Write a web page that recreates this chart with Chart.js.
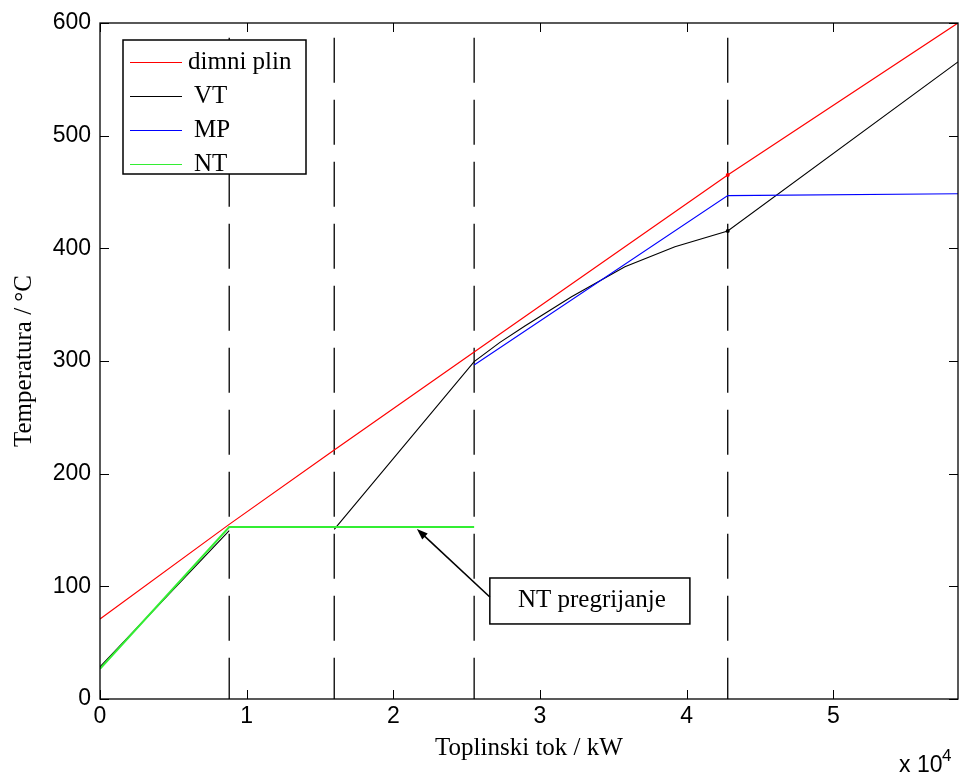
<!DOCTYPE html>
<html>
<head>
<meta charset="utf-8">
<script src="https://cdn.jsdelivr.net/npm/chart.js@4.4.1/dist/chart.umd.min.js"></script>
<style>
  html, body { margin: 0; padding: 0; background: #fff; }
  #wrap { width: 960px; height: 775px; }
</style>
</head>
<body>
<div id="wrap"><canvas id="chart" width="960" height="775"></canvas></div>
<script>
// Heat flow (kW) / temperature (°C)
const gasQ = [0, 8810, 15970, 25510, 42800, 58500];
const gasT = [71, 155, 221, 308, 465, 600];

const vtQ = [0, 8810, 12000, 15970, 25510, 27270, 28970, 32150, 35790, 39200, 42800, 58500];
const vtT = [28.5, 149.4, null, 150.5, 299.5, 316.5, 331, 357, 383.6, 401.4, 415.4, 565.5];

const mpQ = [25510, 42800, 58500];
const mpT = [296.4, 446.8, 448.5];

const ntQ = [0, 8810, 25510];
const ntT = [26.8, 152.7, 152.7];

// section boundaries (dashed verticals)
const sectionQ = [8810, 15970, 25510, 42800];
const sectionTop = 587;
const markerQ = 42800;

const xTicks = [0, 10000, 20000, 30000, 40000, 50000];
const yTicks = [0, 100, 200, 300, 400, 500, 600];
const xMax = 58500;
const yMax = 600;

const seriesNames = ['dimni plin', 'VT', 'MP', 'NT'];
const seriesColors = ['#ff0000', '#000000', '#0000ff', '#33ee33'];

const noteText = 'NT pregrijanje';

const SANS = '"Liberation Sans", Arial, sans-serif';
const SERIF = '"Liberation Serif", "Times New Roman", serif';

function pts(qs, ts) {
  return qs.map((q, i) => ({ x: q, y: ts[i] }));
}

function series(i, qs, ts, width, order) {
  return {
    label: seriesNames[i],
    data: pts(qs, ts),
    showLine: true,
    borderColor: seriesColors[i],
    backgroundColor: seriesColors[i],
    borderWidth: width,
    pointRadius: ctx => (ctx.raw && ctx.raw.x === markerQ && i < 2 ? 2 : 0),
    pointBorderWidth: 0,
    order: order
  };
}

const datasets = [
  series(0, gasQ, gasT, 1.2, 3),
  series(1, vtQ, vtT, 1.1, 2),
  series(2, mpQ, mpT, 1.1, 1),
  series(3, ntQ, ntT, 2, 0)
];

sectionQ.forEach(q => {
  datasets.push({
    label: '',
    data: [{ x: q, y: sectionTop }, { x: q, y: 0 }],
    showLine: true,
    borderColor: '#000',
    borderWidth: 1.3,
    borderDash: [45, 17],
    pointRadius: 0,
    order: 5
  });
});

const frame = {
  id: 'frame',
  afterDraw(chart) {
    const { ctx, chartArea: a } = chart;
    const x = chart.scales.x, y = chart.scales.y;
    ctx.save();

    // axes box
    ctx.strokeStyle = '#000';
    ctx.lineWidth = 1.3;
    ctx.strokeRect(a.left, a.top, a.right - a.left, a.bottom - a.top);

    // inward ticks on all four sides
    ctx.lineWidth = 1;
    ctx.beginPath();
    xTicks.forEach(v => {
      const px = Math.round(x.getPixelForValue(v)) + 0.5;
      ctx.moveTo(px, a.bottom); ctx.lineTo(px, a.bottom - 9);
      ctx.moveTo(px, a.top); ctx.lineTo(px, a.top + 9);
    });
    yTicks.forEach(v => {
      const py = Math.round(y.getPixelForValue(v)) + 0.5;
      ctx.moveTo(a.left, py); ctx.lineTo(a.left + 9, py);
      ctx.moveTo(a.right, py); ctx.lineTo(a.right - 9, py);
    });
    ctx.stroke();

    // legend box
    ctx.fillStyle = '#fff';
    ctx.fillRect(123, 40, 183, 134);
    ctx.lineWidth = 1.5;
    ctx.strokeRect(123, 40, 183, 134);
    ctx.font = '25px ' + SERIF;
    ctx.textBaseline = 'middle';
    ctx.textAlign = 'left';
    seriesNames.forEach((name, i) => {
      const ly = 62.5 + i * 34;
      ctx.strokeStyle = seriesColors[i];
      ctx.lineWidth = 1.2;
      ctx.beginPath();
      ctx.moveTo(130, ly); ctx.lineTo(182, ly);
      ctx.stroke();
      ctx.fillStyle = '#000';
      ctx.fillText(name, i === 0 ? 188 : 194, ly);
    });

    // annotation with arrow
    const bx0 = x.getPixelForValue(26580), by0 = y.getPixelForValue(107.4);
    const bx1 = x.getPixelForValue(40220), by1 = y.getPixelForValue(66.6);
    ctx.fillStyle = '#fff';
    ctx.fillRect(bx0, by0, bx1 - bx0, by1 - by0);
    ctx.strokeStyle = '#000';
    ctx.lineWidth = 1.5;
    ctx.strokeRect(bx0, by0, bx1 - bx0, by1 - by0);
    ctx.fillStyle = '#000';
    ctx.textAlign = 'center';
    ctx.textBaseline = 'alphabetic';
    ctx.fillText(noteText, (bx0 + bx1) / 2 + 2, by0 + 29);

    const ax0 = x.getPixelForValue(26580), ay0 = y.getPixelForValue(90.5);
    const ax1 = x.getPixelForValue(21610), ay1 = y.getPixelForValue(150.9);
    const ang = Math.atan2(ay1 - ay0, ax1 - ax0);
    ctx.lineWidth = 1.6;
    ctx.beginPath();
    ctx.moveTo(ax0, ay0);
    ctx.lineTo(ax1 - 6 * Math.cos(ang), ay1 - 6 * Math.sin(ang));
    ctx.stroke();
    ctx.beginPath();
    ctx.moveTo(ax1, ay1);
    ctx.lineTo(ax1 - 11 * Math.cos(ang) + 4 * Math.sin(ang), ay1 - 11 * Math.sin(ang) - 4 * Math.cos(ang));
    ctx.lineTo(ax1 - 11 * Math.cos(ang) - 4 * Math.sin(ang), ay1 - 11 * Math.sin(ang) + 4 * Math.cos(ang));
    ctx.closePath();
    ctx.fill();

    // axis titles
    ctx.font = '25px ' + SERIF;
    ctx.textAlign = 'center';
    ctx.fillText('Toplinski tok / kW', (a.left + a.right) / 2, 755);
    ctx.save();
    ctx.translate(31, (a.top + a.bottom) / 2);
    ctx.rotate(-Math.PI / 2);
    ctx.fillText('Temperatura / °C', 0, 0);
    ctx.restore();

    // exponent marker
    ctx.font = '23px ' + SANS;
    ctx.textAlign = 'left';
    ctx.fillText('x 10', 899, 772);
    ctx.font = '17px ' + SANS;
    ctx.fillText('4', 942, 761);

    ctx.restore();
  }
};

new Chart(document.getElementById('chart'), {
  type: 'scatter',
  data: { datasets: datasets },
  options: {
    responsive: false,
    animation: false,
    layout: { padding: { top: 23, right: 2, left: 0, bottom: 0 } },
    plugins: {
      legend: { display: false },
      tooltip: { enabled: false }
    },
    scales: {
      x: {
        type: 'linear',
        min: 0,
        max: xMax,
        afterFit: s => { s.height = 76; },
        afterBuildTicks: s => { s.ticks = xTicks.map(v => ({ value: v })); },
        grid: { display: false, drawTicks: false },
        border: { display: false },
        ticks: {
          padding: 4,
          color: '#000',
          maxRotation: 0,
          autoSkip: false,
          font: { family: SANS, size: 23 },
          callback: v => String(v / 10000)
        }
      },
      y: {
        type: 'linear',
        min: 0,
        max: yMax,
        afterFit: s => { s.width = 100; },
        afterBuildTicks: s => { s.ticks = yTicks.map(v => ({ value: v })); },
        grid: { display: false, drawTicks: false },
        border: { display: false },
        ticks: {
          padding: 9,
          color: '#000',
          autoSkip: false,
          font: { family: SANS, size: 23 },
          callback: v => String(v)
        }
      }
    }
  },
  plugins: [frame]
});
</script>
</body>
</html>
